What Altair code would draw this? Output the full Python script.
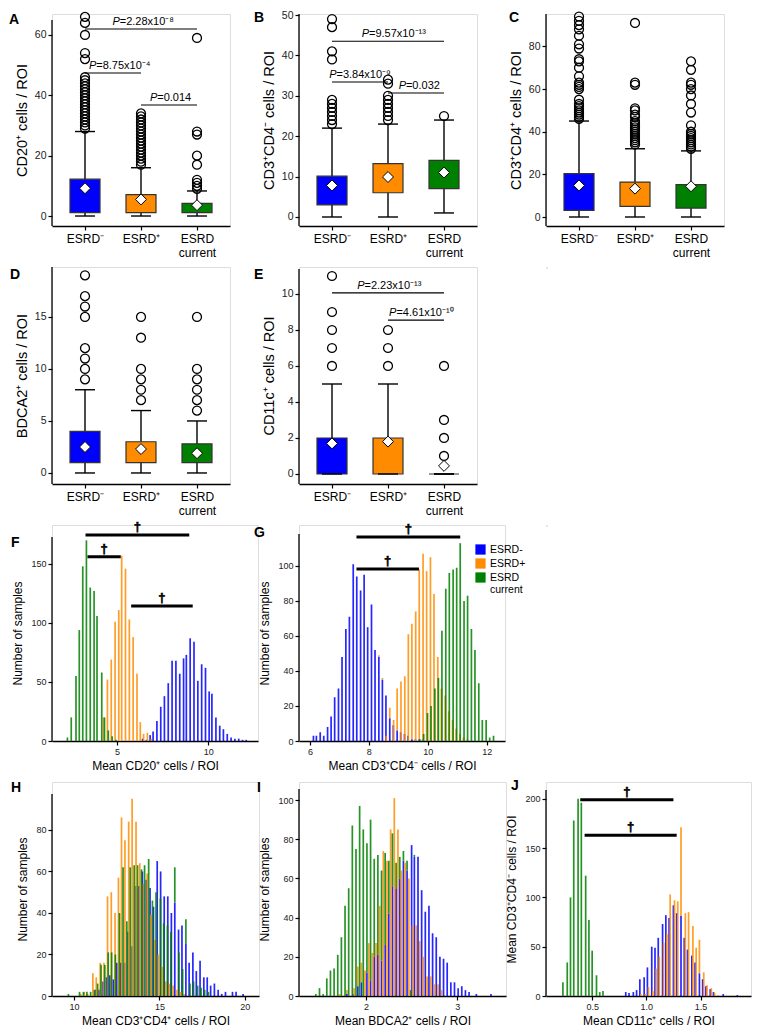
import altair as alt
import pandas as pd

FONT = "Liberation Sans"
GROUPS = ["ESRD-", "ESRD+", "ESRD current"]
COLORS = ["#0000FF", "#FF8C00", "#008000"]
CATS = [0, 1, 2]
CAT_LABEL_EXPR = "datum.value == 0 ? 'ESRD⁻' : datum.value == 1 ? 'ESRD⁺' : ['ESRD', 'current']"

# ---------------- box plot statistics (order: ESRD-, ESRD+, ESRD current) -------------
A_Q1 = [1.1, 1.1, 1.1]
A_Q3 = [12.2, 7.1, 4.2]
A_LO = [0, 0, 0]
A_HI = [28, 16, 8.3]
A_MEAN = [9.2, 5.5, 3.6]
A_OUT = [[29, 30, 31, 32, 33, 34, 35, 36, 37, 38, 39, 40, 41, 42, 43, 44, 45, 46, 52, 54, 60, 64, 66],
         [17, 18, 19, 20, 21, 22, 23, 24, 25, 26, 27, 28, 29, 30, 31, 32, 33, 34],
         [9, 10, 11, 12, 17, 20, 27, 28, 59]]
A_P = [(0, 2, 62.0, 0.49, "=2.28x10⁻⁸"),
       (0, 1, 47.4, 0.07, "=8.75x10⁻⁴"),
       (1, 2, 36.8, 1.16, "=0.014")]

B_Q1 = [3.0, 6.0, 7.0]
B_Q3 = [10.1, 13.2, 14.0]
B_LO = [0, 0, 1]
B_HI = [22, 23, 24]
B_MEAN = [7.8, 9.9, 11.0]
B_OUT = [[23, 24, 25, 26, 27, 28, 29, 39, 41, 47, 49],
         [24, 25, 26, 27, 28, 29, 30, 33, 34],
         [25]]
B_P = [(0, 2, 43.5, 0.53, "=9.57x10⁻¹³"),
       (0, 1, 33.4, -0.05, "=3.84x10⁻⁹"),
       (1, 2, 30.7, 1.19, "=0.032")]

C_Q1 = [3.1, 5.0, 4.2]
C_Q3 = [20.3, 16.4, 15.2]
C_LO = [0, 0, 0]
C_HI = [45, 32, 31]
C_MEAN = [14.8, 13.3, 14.4]
C_OUT = [[46, 47, 48, 49, 50, 51, 52, 53, 55, 60, 61, 62, 63, 66, 70, 73, 74, 79, 81, 85, 88, 90, 92, 94],
         [34, 35, 36, 37, 38, 39, 40, 41, 42, 43, 44, 45, 47, 48, 50, 51, 62, 63, 91],
         [32, 33, 34, 35, 36, 37, 38, 39, 40, 43, 49, 53, 57, 60, 62, 63, 69, 73]]

D_Q1 = [1, 1, 1]
D_Q3 = [4.0, 3.0, 2.8]
D_LO = [0, 0, 0]
D_HI = [8, 6, 5]
D_MEAN = [2.5, 2.3, 1.9]
D_OUT = [[9, 10, 11, 12, 15, 16, 17, 19],
         [7, 8, 9, 10, 13, 15],
         [6, 7, 8, 9, 10, 15]]

E_Q1 = [0, 0, 0]
E_Q3 = [2, 2, 0]
E_LO = [0, 0, 0]
E_HI = [5, 5, 0]
E_MEAN = [1.7, 1.8, 0.45]
E_OUT = [[6, 7, 8, 9, 11],
         [6, 7, 8],
         [1, 2, 3, 6]]
E_P = [(0, 2, 10.06, 0.45, "=2.23x10⁻¹³"),
       (1, 2, 8.55, 1.02, "=4.61x10⁻¹⁰")]

# ---------------- bootstrap histograms: (mean value, number of samples) ----------------
F_NEG = [(6.41, 2), (6.62, 1), (6.82, 5), (6.98, 8), (7.19, 17), (7.4, 29), (7.6, 38), (7.81, 49),
         (8.02, 68), (8.23, 68), (8.44, 57), (8.65, 70), (8.8, 73), (9.01, 87), (9.22, 84), (9.43, 51),
         (9.64, 65), (9.85, 62), (10.05, 42), (10.2, 40), (10.42, 20), (10.63, 13), (10.83, 10),
         (11.04, 6), (11.25, 3), (11.46, 2), (11.67, 2), (11.88, 1), (12.08, 1)]
F_POS = [(4.27, 20), (4.48, 52), (4.69, 69), (4.9, 101), (5.1, 111), (5.26, 157), (5.47, 146),
         (5.68, 103), (5.89, 88), (6.1, 57), (6.28, 16), (6.46, 6), (6.67, 7), (6.88, 2)]
F_CUR = [(2.29, 3), (2.5, 20), (2.76, 55), (2.94, 94), (3.13, 148), (3.33, 170), (3.54, 130),
         (3.75, 127), (3.91, 106), (4.17, 58), (4.32, 20), (4.53, 9), (4.74, 4), (4.95, 1)]
F_SIG = [(3.28, 8.96, 174.6), (3.39, 5.21, 156.0), (5.78, 9.15, 114.4)]

G_NEG = [(6.12, 3), (6.22, 3), (6.35, 5), (6.47, 3), (6.6, 8), (6.72, 14), (6.84, 25), (6.97, 30),
         (7.09, 48), (7.22, 64), (7.34, 71), (7.47, 101), (7.59, 94), (7.72, 86), (7.84, 95), (7.96, 65),
         (8.09, 78), (8.21, 52), (8.34, 48), (8.46, 35), (8.58, 26), (8.71, 13), (8.83, 9), (8.96, 6),
         (9.08, 5), (9.21, 4), (9.33, 3), (9.46, 1), (9.58, 1), (9.71, 1), (9.83, 1)]
G_POS = [(8.34, 1), (8.46, 1), (8.59, 3), (8.71, 6), (8.84, 12), (8.96, 24), (9.09, 34), (9.22, 37),
         (9.34, 61), (9.46, 66), (9.59, 74), (9.71, 97), (9.84, 107), (9.96, 97), (10.09, 105),
         (10.21, 84), (10.34, 48), (10.46, 30), (10.59, 26), (10.71, 17), (10.84, 12), (10.96, 7),
         (11.09, 4), (11.21, 2), (11.34, 1)]
G_CUR = [(9.73, 1), (9.86, 4), (9.99, 16), (10.11, 20), (10.24, 30), (10.36, 36), (10.48, 63),
         (10.61, 87), (10.73, 96), (10.86, 98), (10.98, 99), (11.1, 113), (11.23, 80), (11.35, 83),
         (11.48, 64), (11.6, 52), (11.73, 33), (11.85, 12), (11.98, 12), (12.1, 2), (12.23, 3)]
G_SIG = [(7.58, 11.1, 116.6), (7.58, 9.7, 98.3)]

H_NEG = [(11.25, 3), (11.47, 3), (11.7, 7), (11.9, 9), (12.1, 10), (12.3, 8), (12.5, 16), (12.74, 16),
         (12.96, 16), (13.16, 31), (13.39, 24), (13.6, 53), (13.81, 53), (14.0, 60), (14.23, 56),
         (14.45, 52), (14.65, 43), (14.87, 65), (15.07, 60), (15.28, 48), (15.49, 48), (15.7, 40),
         (15.9, 45), (16.12, 32), (16.32, 34), (16.55, 25), (16.74, 16), (16.96, 21), (17.16, 12),
         (17.38, 17), (17.6, 9), (17.8, 9), (18.0, 5), (18.22, 6), (18.44, 3), (18.65, 1), (18.87, 2),
         (19.28, 2), (19.49, 2), (19.9, 1)]
H_POS = [(10.4, 1), (10.6, 2), (10.8, 1), (11.1, 11), (11.3, 9), (11.53, 16), (11.75, 16), (11.96, 48),
         (12.18, 50), (12.4, 40), (12.6, 57), (12.78, 86), (12.98, 75), (13.2, 84), (13.4, 95),
         (13.63, 84), (13.85, 64), (14.06, 54), (14.28, 59), (14.5, 39), (14.73, 27), (14.93, 20),
         (15.15, 14), (15.37, 7), (15.58, 6), (15.8, 5), (16.03, 3), (16.25, 2), (16.45, 1)]
H_CUR = [(9.67, 1), (10.32, 2), (10.55, 2), (10.75, 2), (10.97, 2), (11.19, 3), (11.38, 6), (11.58, 15),
         (11.8, 15), (12.0, 21), (12.2, 21), (12.42, 20), (12.66, 40), (12.87, 62), (13.09, 36),
         (13.29, 62), (13.52, 63), (13.72, 63), (13.95, 61), (14.13, 63), (14.37, 66), (14.59, 46),
         (14.8, 50), (15.06, 47), (15.25, 35), (15.47, 34), (15.67, 31), (15.9, 17), (16.14, 21),
         (16.36, 13), (16.55, 12), (16.79, 6), (17.0, 7), (17.24, 5), (17.44, 4), (17.65, 3), (17.87, 2)]

I_NEG = [(1.79, 1), (1.86, 1), (1.91, 5), (1.95, 7), (2.01, 12), (2.05, 8), (2.09, 20), (2.13, 21),
         (2.17, 18), (2.21, 26), (2.25, 42), (2.29, 56), (2.33, 55), (2.37, 60), (2.41, 69), (2.45, 64),
         (2.5, 77), (2.53, 71), (2.57, 71), (2.61, 54), (2.65, 43), (2.69, 46), (2.73, 32), (2.77, 30),
         (2.81, 20), (2.85, 19), (2.89, 17), (2.93, 7), (2.97, 7), (3.01, 4), (3.05, 5), (3.09, 3),
         (3.13, 2), (3.21, 1), (3.37, 1)]
I_POS = [(1.71, 1), (1.79, 2), (1.87, 4), (1.91, 10), (1.95, 10), (1.99, 13), (2.03, 27), (2.07, 22),
         (2.11, 27), (2.15, 46), (2.19, 74), (2.23, 69), (2.27, 85), (2.31, 101), (2.35, 85), (2.39, 64),
         (2.43, 68), (2.47, 60), (2.51, 36), (2.55, 36), (2.59, 28), (2.63, 20), (2.67, 10), (2.71, 10),
         (2.75, 6), (2.79, 6), (2.83, 3)]
I_CUR = [(1.45, 1), (1.49, 4), (1.53, 1), (1.57, 9), (1.61, 13), (1.65, 14), (1.69, 21), (1.73, 30),
         (1.77, 46), (1.81, 55), (1.85, 87), (1.89, 75), (1.93, 97), (1.97, 85), (2.01, 66), (2.05, 82),
         (2.09, 50), (2.13, 51), (2.17, 46), (2.21, 47), (2.25, 27), (2.29, 27), (2.33, 13), (2.37, 11),
         (2.41, 5), (2.45, 5), (2.49, 3), (2.53, 1)]

J_NEG = [(0.81, 4), (0.84, 3), (0.88, 4), (0.91, 6), (0.94, 17), (0.98, 19), (1.01, 29), (1.05, 50),
         (1.08, 49), (1.11, 59), (1.15, 73), (1.18, 82), (1.21, 79), (1.25, 92), (1.28, 84), (1.32, 81),
         (1.35, 59), (1.38, 47), (1.42, 41), (1.45, 34), (1.49, 23), (1.52, 17), (1.55, 10), (1.59, 7),
         (1.62, 4), (1.71, 2), (1.84, 1)]
J_POS = [(0.95, 2), (0.99, 2), (1.02, 9), (1.06, 5), (1.09, 28), (1.12, 40), (1.16, 54), (1.19, 63),
         (1.22, 103), (1.26, 97), (1.29, 96), (1.32, 90), (1.36, 84), (1.39, 85), (1.43, 71), (1.46, 49),
         (1.49, 34), (1.53, 24), (1.56, 11), (1.6, 8), (1.63, 3), (1.66, 1)]
J_CUR = [(0.23, 14), (0.27, 34), (0.3, 100), (0.33, 178), (0.37, 200), (0.4, 196), (0.44, 122),
         (0.47, 77), (0.5, 46), (0.54, 21), (0.57, 4), (0.6, 5)]
J_SIG = [(0.39, 1.25, 199.0), (0.43, 1.28, 163.0)]


def color_enc(legend=None):
    return alt.Color("group:N", scale=alt.Scale(domain=GROUPS, range=COLORS), legend=legend)


def letter_layer(letter, pos):
    return alt.Chart(pd.DataFrame({"t": [letter]})).mark_text(
        align="left", baseline="alphabetic", fontSize=14, fontWeight="bold", font=FONT, color="black"
    ).encode(x=alt.value(pos[0]), y=alt.value(pos[1]), text="t:N")


def yline_layer(top, height):
    return alt.Chart(pd.DataFrame({"t": [0]})).mark_rule(color="black", strokeWidth=1.3).encode(
        x=alt.value(0), y=alt.value(top), y2=alt.value(height))


def y_axis(values, title, label_size, title_size, title_pad):
    return alt.Axis(values=values, title=title, domain=False, grid=False, tickSize=4,
                    tickColor="black", tickWidth=1.2, labelFontSize=label_size, labelPadding=2,
                    labelColor="#222", labelFont=FONT, titleFont=FONT, titleFontSize=title_size,
                    titleFontWeight="normal", titleColor="black", titlePadding=title_pad)


def box_panel(letter, lpos, ytitle, q1, q3, lo, hi, mean, outs, ydom, yticks, height, top, pvals=()):
    xs = alt.Scale(domain=[-0.5, 2.5], nice=False, zero=False)
    ys = alt.Scale(domain=ydom, nice=False, zero=False)
    xax = alt.Axis(values=CATS, labelExpr=CAT_LABEL_EXPR, title=None, grid=False, tickSize=4,
                   tickColor="black", tickWidth=1.2, domainColor="black", domainWidth=1.3,
                   labelFontSize=12, labelPadding=3, labelColor="black", labelAngle=0, labelFont=FONT)
    yax = y_axis(yticks, ytitle, 10.5, 14.5, 5)

    def X(f):
        return alt.X(f, type="quantitative", scale=xs, axis=xax)

    def Y(f):
        return alt.Y(f, type="quantitative", scale=ys, axis=yax)

    stats = pd.DataFrame({"cat": CATS, "group": GROUPS, "q1": q1, "q3": q3,
                          "lo": lo, "hi": hi, "mean": mean})
    caps = pd.DataFrame({"cat": CATS + CATS, "v": list(lo) + list(hi)})
    out = pd.DataFrame({"cat": [c for c, o in zip(CATS, outs) for _ in o],
                        "v": [v for o in outs for v in o]})
    layers = [
        alt.Chart(stats).mark_rule(color="black", strokeWidth=1.4).encode(x=X("cat"), y=Y("lo"), y2="hi"),
        alt.Chart(stats).mark_bar(size=30, stroke="#333", strokeWidth=1.2, opacity=1).encode(
            x=X("cat"), y=Y("q1"), y2="q3", color=color_enc()),
        alt.Chart(caps).mark_tick(orient="horizontal", size=20, thickness=1.4, color="black", opacity=1).encode(
            x=X("cat"), y=Y("v")),
        alt.Chart(out).mark_point(shape="circle", size=80, filled=False, color="black",
                                  strokeWidth=1.3, opacity=1).encode(x=X("cat"), y=Y("v")),
        alt.Chart(stats).mark_point(shape="diamond", size=120, filled=True, fill="white",
                                    stroke="black", strokeWidth=1, opacity=1).encode(x=X("cat"), y=Y("mean")),
    ]
    if pvals:
        pdf = pd.DataFrame(list(pvals), columns=["x1", "x2", "y", "tx", "label"])
        layers += [
            alt.Chart(pdf).mark_rule(color="black", strokeWidth=1.1).encode(x=X("x1"), x2="x2", y=Y("y")),
            alt.Chart(pdf).mark_text(align="left", baseline="alphabetic", fontStyle="italic",
                                     fontSize=11, font=FONT, dy=-4, text="P", color="black").encode(
                x=X("tx"), y=Y("y")),
            alt.Chart(pdf).mark_text(align="left", baseline="alphabetic", fontSize=11, font=FONT,
                                     dy=-4, dx=7.3, color="black").encode(
                x=X("tx"), y=Y("y"), text="label:N"),
        ]
    layers += [yline_layer(top, height), letter_layer(letter, lpos)]
    return alt.layer(*layers).properties(width=178, height=height)


def hist_panel(letter, lpos, series, xdom, xticks, xtitle, ydom, yticks, ytitle, width, height, top,
               sig=(), legend=None, xfmt="d"):
    xs = alt.Scale(domain=xdom, nice=False, zero=False)
    ys = alt.Scale(domain=ydom, nice=False, zero=False)
    xax = alt.Axis(values=xticks, format=xfmt, title=xtitle, grid=False, tickSize=4, tickColor="black",
                   tickWidth=1.2, domainColor="black", domainWidth=1.3, labelFontSize=9, labelPadding=2,
                   labelColor="#222", labelFont=FONT, titleFont=FONT, titleFontSize=12,
                   titleFontWeight="normal", titleColor="black", titlePadding=4)
    yax = y_axis(yticks, ytitle, 9, 12, 6)

    def X(f):
        return alt.X(f, type="quantitative", scale=xs, axis=xax)

    def Y(f):
        return alt.Y(f, type="quantitative", scale=ys, axis=yax)

    rows = [(g, x, n) for g, pairs in zip(GROUPS, series) for x, n in pairs]
    df = pd.DataFrame(rows, columns=["group", "x", "n"])
    layers = [alt.Chart(df).mark_bar(size=1.7, opacity=0.85, orient="vertical").encode(
        x=X("x"), y=Y("n"), color=color_enc(legend))]
    if sig:
        sdf = pd.DataFrame(list(sig), columns=["x1", "x2", "y"])
        layers += [
            alt.Chart(sdf).mark_rule(color="black", strokeWidth=3).encode(x=X("x1"), x2="x2", y=Y("y")),
            alt.Chart(sdf).transform_calculate(mid="(datum.x1 + datum.x2) / 2").mark_text(
                text="†", fontSize=13, fontWeight="bold", font=FONT, baseline="bottom", dy=-1,
                fill="#000000", stroke="#000000", strokeWidth=0.6).encode(x=X("mid"), y=Y("y")),
        ]
    layers += [yline_layer(top, height), letter_layer(letter, lpos)]
    return alt.layer(*layers).properties(width=width, height=height)


def blank():
    return alt.Chart(pd.DataFrame({"v": [0]})).mark_point(opacity=0).encode(
        x=alt.X("v:Q", axis=None), y=alt.Y("v:Q", axis=None)).properties(width=1, height=1)


LEGEND = alt.Legend(title=None, orient="none", legendX=176, legendY=19, symbolType="square",
                    symbolSize=105, symbolStrokeWidth=0, symbolOpacity=1, labelFontSize=10.5,
                    labelFont=FONT, labelColor="black", rowPadding=3, padding=0, labelOffset=4,
                    labelExpr="datum.label == 'ESRD current' ? ['ESRD', 'current'] : datum.label")

pA = box_panel("A", (-43, 10), "CD20⁺ cells / ROI", A_Q1, A_Q3, A_LO, A_HI, A_MEAN, A_OUT,
               [-3.31, 66.95], [0, 20, 40, 60], 212, 6, A_P)
pB = box_panel("B", (-45, 8), "CD3⁺CD4⁻ cells / ROI", B_Q1, B_Q3, B_LO, B_HI, B_MEAN, B_OUT,
               [-2.23, 50.25], [0, 10, 20, 30, 40, 50], 212, 0, B_P)
pC = box_panel("C", (-37, 8), "CD3⁺CD4⁺ cells / ROI", C_Q1, C_Q3, C_LO, C_HI, C_MEAN, C_OUT,
               [-4.22, 95.2], [0, 20, 40, 60, 80], 212, 0)
pD = box_panel("D", (-42, 12), "BDCA2⁺ cells / ROI", D_Q1, D_Q3, D_LO, D_HI, D_MEAN, D_OUT,
               [-1.06, 19.8], [0, 5, 10, 15], 217, 0)
pE = box_panel("E", (-45, 12), "CD11c⁺ cells / ROI", E_Q1, E_Q3, E_LO, E_HI, E_MEAN, E_OUT,
               [-0.556, 11.5], [0, 2, 4, 6, 8, 10], 217, 2, E_P)

pF = hist_panel("F", (-41, 22), [F_NEG, F_POS, F_CUR], [1.72, 12.45], [5, 10], "Mean CD20⁺ cells / ROI",
                [0, 183], [0, 50, 100, 150], "Number of samples", 206, 216, 12, F_SIG)
pG = hist_panel("G", (-45, 12), [G_NEG, G_POS, G_CUR], [5.8, 12.45], [6, 8, 10, 12],
                "Mean CD3⁺CD4⁻ cells / ROI", [0, 123.4], [0, 20, 40, 60, 80, 100], "Number of samples",
                206, 216, 9, G_SIG, legend=LEGEND)
pH = hist_panel("H", (-41, 10), [H_NEG, H_POS, H_CUR], [9.0, 20.54], [10, 15, 20],
                "Mean CD3⁺CD4⁺ cells / ROI", [0, 103.1], [0, 20, 40, 60, 80], "Number of samples",
                207, 214, 12)
pI = hist_panel("I", (-42, 10), [I_NEG, I_POS, I_CUR], [1.32, 3.48], [2, 3],
                "Mean BDCA2⁺ cells / ROI", [0, 109.2], [0, 20, 40, 60, 80, 100], "Number of samples",
                207, 214, 7)
pJ = hist_panel("J", (-35, 8), [J_NEG, J_POS, J_CUR], [0.12, 1.92], [0.5, 1.0, 1.5],
                "Mean CD11c⁺ cells / ROI", [0, 217], [0, 50, 100, 150, 200], "Mean CD3⁺CD4⁻ cells / ROI",
                205, 214, 8, J_SIG, xfmt=".1f")

chart = alt.concat(
    pA, pB, pC,
    pD, pE, blank(),
    pF, pG, blank(),
    pH, pI, pJ,
    columns=3, spacing={"row": 41, "column": 40}, bounds="flush", align="each",
).resolve_scale(color="independent").properties(
    padding={"left": 0, "top": 0, "right": 0, "bottom": 0}
).configure_view(stroke=None).configure(font=FONT)

chart.save("out.html", embed_options={"renderer": "svg", "actions": False})
